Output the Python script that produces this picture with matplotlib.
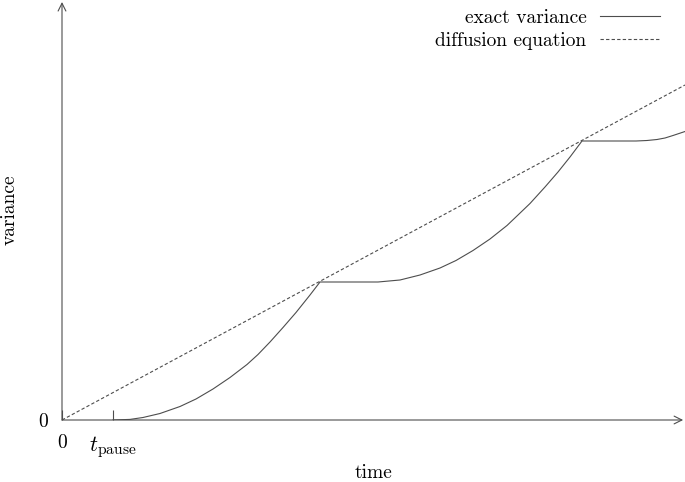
import matplotlib
matplotlib.use("Agg")
import matplotlib.pyplot as plt

# values (time and variance in arbitrary units)
T_PAUSE = 0.51
exact_t = [0.51, 0.68, 0.81, 0.98, 1.18, 1.34, 1.51, 1.68, 1.85, 1.96,
           2.08, 2.21, 2.34, 2.48, 2.58,
           3.16, 3.38, 3.58, 3.78, 3.94, 4.11, 4.28, 4.45, 4.56, 4.68,
           4.83, 4.96, 5.08, 5.20,
           5.74, 5.85, 5.95, 6.03, 6.11, 6.23]
exact_var = [0.0, 0.006, 0.025, 0.065, 0.135, 0.21, 0.31, 0.425, 0.555, 0.655,
             0.78, 0.925, 1.075, 1.25, 1.38,
             1.38, 1.40, 1.45, 1.52, 1.595, 1.695, 1.81, 1.945, 2.05, 2.165,
             2.33, 2.48, 2.63, 2.79,
             2.79, 2.795, 2.805, 2.82, 2.845, 2.885]
diff_t = [0.0, 6.23]
diff_var = [0.0, 3.35]

XMAX, YMAX = 6.23, 4.18
LINE_COLOR = "#4d4d4d"

plt.rcParams.update({"font.family": "serif", "font.serif": ["cmr10"],
                     "mathtext.fontset": "cm", "font.size": 14,
                     "axes.formatter.use_mathtext": True})

fig = plt.figure(figsize=(6.85, 4.82), dpi=100)
ax = fig.add_axes([62 / 685, 62 / 482, 623 / 685, 418 / 482])

ax.plot(exact_t, exact_var, color=LINE_COLOR, lw=0.8, label="exact variance")
ax.plot(diff_t, diff_var, color=LINE_COLOR, lw=0.8, ls=(0, (3, 2)), label="diffusion equation")

ax.set_xlim(0, XMAX)
ax.set_ylim(0, YMAX)
for s in ax.spines.values():
    s.set_visible(False)

# axes drawn as arrows
arrow = dict(arrowstyle="->", color=LINE_COLOR, lw=0.8, shrinkA=0, shrinkB=0,
             mutation_scale=14)
ax.annotate("", xy=(0.997, 0), xytext=(0, 0), xycoords="axes fraction",
            arrowprops=arrow, annotation_clip=False)
ax.annotate("", xy=(0, 1.0), xytext=(0, 0), xycoords="axes fraction",
            arrowprops=arrow, annotation_clip=False)

ax.set_xticks([0, T_PAUSE])
ax.set_xticklabels(["0", r"$t_{\mathrm{pause}}$"])
ax.get_xticklabels()[1].set_fontsize(16)
ax.set_yticks([0])
ax.set_yticklabels(["0"])
ax.tick_params(axis="x", direction="in", length=7, width=0.8, color=LINE_COLOR, pad=10)
ax.tick_params(axis="y", length=0, pad=10)

fig.text(373 / 685, 1 - 473 / 482, "time", ha="center", va="center")
fig.text(10 / 685, 1 - 210 / 482, "variance", ha="center", va="center", rotation=90)

leg = ax.legend(loc="upper right", bbox_to_anchor=(669 / 685, 1.0), bbox_transform=fig.transFigure,
                frameon=False, markerfirst=False, handlelength=3.1, handletextpad=0.7,
                labelspacing=0.27, borderaxespad=0.05)

fig.savefig("out.png", dpi=100)
